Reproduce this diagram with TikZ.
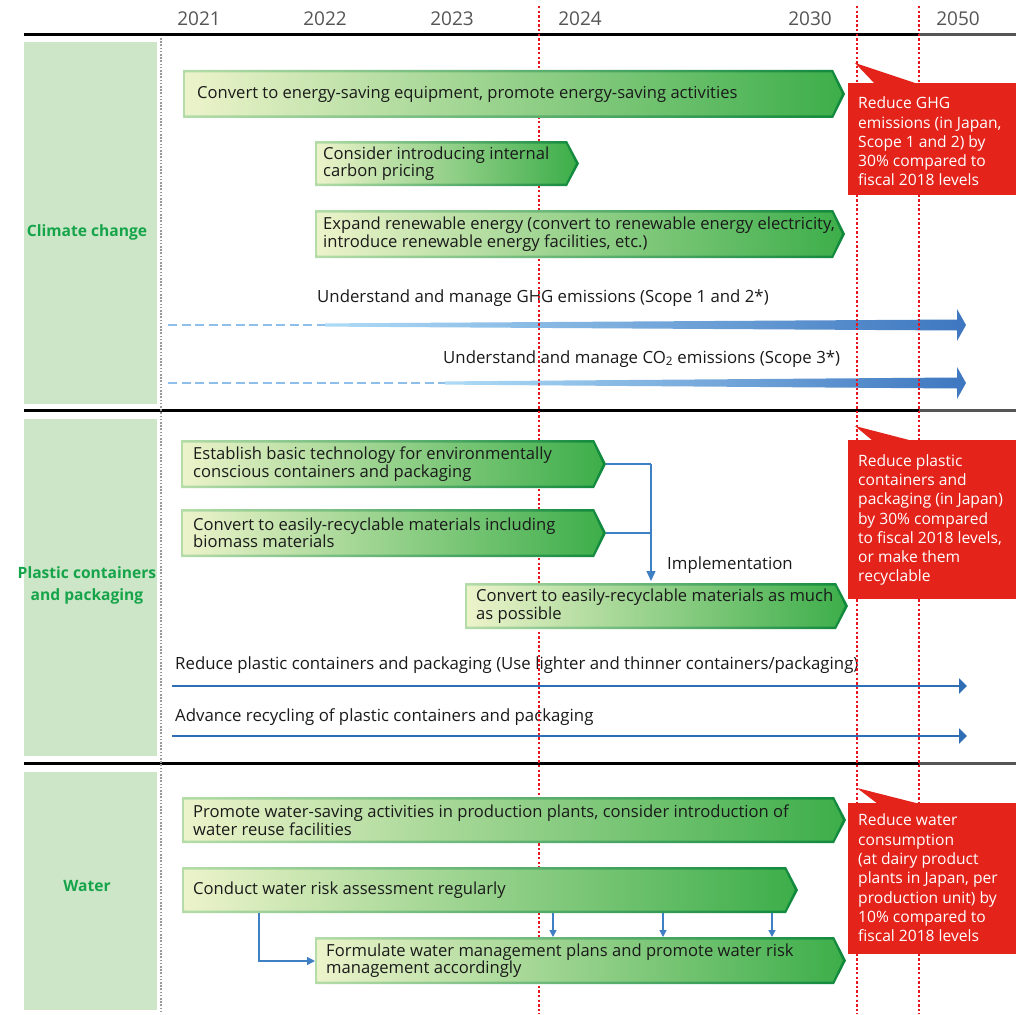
\documentclass[tikz,border=0pt]{standalone}
\usepackage{fontspec}
\setmainfont{Open Sans}
\usetikzlibrary{arrows.meta}
\definecolor{panel}{HTML}{CDE6C8}
\definecolor{brdL}{HTML}{B4DCA9}
\definecolor{brdR}{HTML}{10893C}
\definecolor{fillL}{HTML}{ECF3CA}
\definecolor{fillR}{HTML}{3DAE4A}
\definecolor{calred}{HTML}{E4231B}
\definecolor{lblgreen}{HTML}{16A44A}
\definecolor{dashblue}{HTML}{8DBFEA}
\definecolor{wedgeL}{HTML}{AEDBF6}
\definecolor{wedgeR}{HTML}{3E77C0}
\definecolor{lineblue}{HTML}{2F6DB5}
\definecolor{connblue}{HTML}{3F7FC3}
\definecolor{yeargray}{HTML}{555555}
\definecolor{dotred}{HTML}{E8141E}
\definecolor{txt}{HTML}{1A1A1A}
\tikzset{
  chevtext/.style={anchor=west, inner sep=0pt, align=left, text=txt, font=\fontsize{16.6}{17.5}\selectfont},
  plaintext/.style={anchor=west, inner sep=0pt, text=txt, font=\fontsize{16.8}{17.5}\selectfont},
  yearlbl/.style={inner sep=0pt, text=yeargray, font=\fontsize{19}{20}\selectfont},
  seclbl/.style={inner sep=0pt, align=center, text=lblgreen, font=\bfseries\fontsize{15.6}{22}\selectfont},
  callbox/.style={anchor=north west, fill=calred, draw=none, inner sep=0pt, minimum width=168pt},
  calltext/.style={anchor=west, text=white, inner sep=0pt, align=left, font=\fontsize{15.6}{19.3}\selectfont},
  panelbox/.style={fill=panel, draw=none, inner sep=0pt, anchor=north west},
  conn/.style={draw=connblue, line width=1.3pt},
  connarrow/.style={conn, -{Triangle[length=7pt,width=7pt]}},
}
\newcommand\chev[7]{%
  \shade[left color=brdL, right color=brdR] (#2,#3) -- (#4-12,#3) -- (#4,{(#3+#5)/2}) -- (#4-12,#5) -- (#2,#5) -- cycle;
  \shade[left color=fillL, right color=fillR] (#2+2.5,#3+2.5) -- (#4-13.2,#3+2.5) -- (#4-3.2,{(#3+#5)/2}) -- (#4-13.2,#5-2.5) -- (#2+2.5,#5-2.5) -- cycle;
  \node[chevtext] (#1) at (#6,{(#3+#5)/2}) {#7};
  \coordinate (#1-tip) at (#4,{(#3+#5)/2});
}
\newcommand\bluebar[4]{%
  \coordinate (#1-start) at (#2,#4);
  \coordinate (#1-mid) at (#3,#4);
  \coordinate (#1-end) at (966,#4);
  \draw[dashblue, line width=2.6pt, dash pattern=on 9pt off 4.5pt] (#1-start) -- (#1-mid);
  \shade[left color=wedgeL, right color=wedgeR] (#3,#4-1.6) -- (957,#4-5.5) -- (957,#4-16) -- (966,#4) -- (957,#4+16) -- (957,#4+5.5) -- (#3,#4+1.6) -- cycle;
}
\begin{document}
\begin{tikzpicture}[x=1pt, y=-1pt]
\useasboundingbox[fill=white] (0,0) rectangle (1022,1014);
% panels
\node[panelbox, minimum width=133pt, minimum height=362pt] (p1) at (24,42) {};
\node[panelbox, minimum width=133pt, minimum height=337pt] (p2) at (24,419) {};
\node[panelbox, minimum width=133pt, minimum height=238pt] (p3) at (24,772) {};
\node[seclbl] (l1) at (87,232) {Climate change};
\node[seclbl] (l2) at (87,585) {Plastic containers\\and packaging};
\node[seclbl] (l3) at (87,886) {Water};
% horizontal rules
\foreach \yy in {35,410,763} {
  \draw[black, line width=3pt] (24,\yy) -- (919,\yy);
  \draw[yeargray, line width=3pt] (919,\yy) -- (1016,\yy);
}
% gray dotted start line
\draw[gray!80, line width=1.6pt, dash pattern=on 1.6pt off 1.6pt] (161,38) -- (161,1014);
% years
\node[yearlbl] (y2021) at (199,19) {2021};
\node[yearlbl] (y2022) at (325,19) {2022};
\node[yearlbl] (y2023) at (452,19) {2023};
\node[yearlbl] (y2024) at (580,19) {2024};
\node[yearlbl] (y2030) at (810,19) {2030};
\node[yearlbl] (y2050) at (958,19) {2050};
% blue bars
\bluebar{ghg}{168}{325}{325}
\bluebar{co}{168}{445}{383}
\node[plaintext] (ghgtxt) at (317,298) {Understand and manage GHG emissions (Scope 1 and 2*)};
\node[plaintext] (cotxt) at (443,359) {Understand and manage CO\textsubscript{2} emissions (Scope 3*)};
% plastic line arrows
\coordinate (pl1s) at (172,686); \coordinate (pl1e) at (967,686);
\coordinate (pl2s) at (172,736); \coordinate (pl2e) at (967,736);
\draw[lineblue, line width=2.8pt, -{Triangle[length=8pt,width=15pt]}] (pl1s) -- (pl1e);
\draw[lineblue, line width=2.8pt, -{Triangle[length=8pt,width=15pt]}] (pl2s) -- (pl2e);
\node[plaintext] (pltxt1) at (175,665) {Reduce plastic containers and packaging (Use lighter and thinner containers/packaging)};
\node[plaintext] (pltxt2) at (175,717) {Advance recycling of plastic containers and packaging};
% red dotted year lines
\foreach \xx in {539,857,919} {
  \draw[dotred, line width=1.3pt, dash pattern=on 2.4pt off 2.2pt] (\xx,6) -- (\xx,1014);
}
% chevrons: climate
\chev{a1}{183}{70}{845}{118}{197}{Convert to energy-saving equipment, promote energy-saving activities}
\chev{a2}{315}{141}{579}{186}{323}{Consider introducing internal\\carbon pricing}
\chev{a3}{315}{210}{845}{258}{323}{Expand renewable energy (convert to renewable energy electricity,\\introduce renewable energy facilities, etc.)}
% chevrons: plastic
\chev{b1}{181}{440}{606}{488}{193}{Establish basic technology for environmentally\\conscious containers and packaging}
\chev{b2}{181}{509}{606}{557}{193}{Convert to easily-recyclable materials including\\biomass materials}
\chev{b3}{465}{583}{848}{629}{476}{Convert to easily-recyclable materials as much\\as possible}
% chevrons: water
\chev{c1}{182}{797}{846}{843}{193}{Promote water-saving activities in production plants, consider introduction of\\water reuse facilities}
\chev{c2}{182}{867}{798}{913}{193}{Conduct water risk assessment regularly}
\chev{c3}{315}{937}{846}{984}{326}{Formulate water management plans and promote water risk\\management accordingly}
% plastic connectors
\coordinate (jb1) at (651,464);
\coordinate (jb2) at (651,533);
\coordinate (jb3) at (651,581);
\draw[conn] (b1-tip) -- (jb1);
\draw[draw=connblue, line width=2.2pt] (b2-tip) -- (jb2);
\draw[conn, -{Triangle[length=10pt,width=9pt]}] (jb1) -- (jb3);
\node[plaintext] (impl) at (667,565) {Implementation};
% water connectors
\coordinate (wc0) at (259,913);
\coordinate (wc1) at (315,961);
\draw[conn, -{Triangle[length=8pt,width=8pt]}] (wc0) |- (wc1);
\foreach \xx [count=\i] in {553,663,772} {
  \coordinate (wd\i a) at (\xx,913);
  \coordinate (wd\i b) at (\xx,937);
  \draw[connarrow] (wd\i a) -- (wd\i b);
}
% callouts
\fill[calred] (855,63) -- (918,84) -- (875,84) -- cycle;
\node[callbox, minimum height=112pt] (r1) at (848,83) {};
\node[calltext] (r1t) at (858,141.5) {Reduce GHG\\emissions (in Japan,\\Scope 1 and 2) by\\30\% compared to\\fiscal 2018 levels};
\fill[calred] (855,426) -- (913,441) -- (873,441) -- cycle;
\node[callbox, minimum height=159pt] (r2) at (848,440) {};
\node[calltext] (r2t) at (858,520) {Reduce plastic\\containers and\\packaging (in Japan)\\by 30\% compared\\to fiscal 2018 levels,\\or make them\\recyclable};
\fill[calred] (857,788) -- (920,804) -- (878,804) -- cycle;
\node[callbox, minimum height=151pt] (r3) at (848,803) {};
\node[calltext] (r3t) at (858,878) {Reduce water\\consumption\\(at dairy product\\plants in Japan, per\\production unit) by\\10\% compared to\\fiscal 2018 levels};
\end{tikzpicture}
\end{document}
